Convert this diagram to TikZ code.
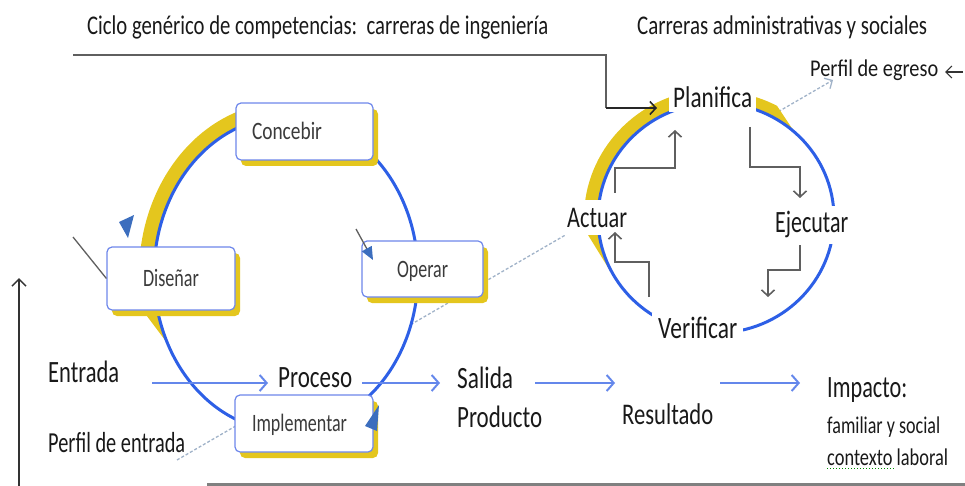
\documentclass[tikz,border=0pt]{standalone}
\usepackage{fontspec}
\setmainfont{Carlito}
\usepackage{graphicx}
\usetikzlibrary{arrows.meta,calc,shadows}
\definecolor{cblue}{RGB}{45,95,230}
\definecolor{fblue}{RGB}{100,135,235}
\definecolor{bblue}{RGB}{110,135,235}
\definecolor{ablue}{RGB}{60,110,190}
\definecolor{yel}{RGB}{228,198,30}
\definecolor{txtc}{RGB}{25,25,25}
\definecolor{gline}{RGB}{95,95,95}
\definecolor{dashc}{RGB}{160,178,200}
\newcommand\fw[2]{\resizebox{#1pt}{\height}{#2}}
\newcommand\fsz[1]{\fontsize{#1}{#1}\selectfont}
\begin{document}
\begin{tikzpicture}[x=1pt,y=-1pt,
  txt/.style={anchor=base west, inner sep=0pt, text=txtc},
  lbl/.style={anchor=base west, fill=white, text=txtc},
  box/.style={draw=bblue, line width=1.2pt, fill=white, rounded corners=5pt, inner sep=0pt,
     text=txtc!85, font=\fsz{25}, text height=16pt, text depth=0pt,
     drop shadow={shadow xshift=5pt, shadow yshift=-6pt, fill=yel, opacity=1}},
  flow/.style={fblue, line width=2pt, -{Straight Barb[length=7pt,width=16pt]}},
  stp/.style={gline, line width=1.6pt, -{Straight Barb[length=6pt,width=13pt]}},
  dsh/.style={dashc, line width=1.3pt, dash pattern=on 3pt off 2pt}
]
\useasboundingbox (0,0) rectangle (965,486);

% dashed line Perfil de entrada -> Perfil de egreso (hidden inside the circles)
\coordinate (pa) at (177,460);
\coordinate (pb) at (833,80);
\draw[dsh, -{Straight Barb[length=6pt,width=12pt]}] (pa) -- (pb);

% white interiors of the two cycles
\fill[white] (286,274) ellipse [x radius=132, y radius=157];
\fill[white] (716,218) ellipse [x radius=118, y radius=115];

% yellow bands
\fill[yel] ($(286,274)+(-100:147 and 172)$) arc[start angle=-100, end angle=-192, x radius=147, y radius=172]
   -- ($(286,274)+(-205:133 and 158)$) arc[start angle=-205, end angle=-100, x radius=133, y radius=158] -- cycle;
\fill[yel] ($(716,218)+(-100:132 and 129)$) arc[start angle=-100, end angle=-185, x radius=132, y radius=129]
   -- ($(716,218)+(-207:119 and 116)$) arc[start angle=-207, end angle=-100, x radius=119, y radius=116] -- cycle;
\fill[yel] ($(716,218)+(-80:130 and 127)$) arc[start angle=-80, end angle=-62, x radius=130, y radius=127]
   -- ($(716,218)+(-50:119 and 116)$) arc[start angle=-50, end angle=-80, x radius=119, y radius=116] -- cycle;

% blue cycles
\draw[cblue, line width=3pt] (286,274) ellipse [x radius=132, y radius=157];
\draw[cblue, line width=3pt] (716,218) ellipse [x radius=118, y radius=115];

% boxes of the engineering cycle
\node[box, minimum width=137pt, minimum height=57pt] (conc) at (304.5,131.5) {\makebox[105pt][l]{\fw{70}{Concebir}}};
\node[box, minimum width=128pt, minimum height=63pt] (dise) at (171,278.5) {\fw{56}{Diseñar}};
\node[box, minimum width=121pt, minimum height=56pt] (oper) at (422.5,269) {\fw{51}{Operar}};
\node[box, minimum width=138pt, minimum height=57pt] (impl) at (304,423.5) {\makebox[104pt][l]{\fw{95}{Implementar}}};

% small cycle arrowheads
\fill[ablue] (119,222) -- (134,215) -- (128,238) -- cycle;
\draw[gline, line width=1.3pt, -{Triangle[length=13pt,width=11pt,color=ablue]}] (356,229) -- (373,260);
\fill[ablue] (379,405) -- (377,431) -- (365,426) -- cycle;

% labels of the administrative cycle
\node[lbl, font=\fsz{30}, inner xsep=4pt, inner ysep=4pt] (plan) at (669,108) {\fw{79}{Planifica}};
\node[lbl, font=\fsz{30}, inner xsep=3pt, inner ysep=8pt] (act) at (564,227) {\fw{60}{Actuar}};
\node[lbl, font=\fsz{31}, inner xsep=3pt, inner ysep=6pt] (ejec) at (772,233) {\fw{73}{Ejecutar}};
\node[lbl, font=\fsz{31}, inner xsep=6pt, inner ysep=4pt] (verif) at (652,338) {\fw{79}{Verificar}};

% step arrows of the administrative cycle
\coordinate (s1a) at (615,193); \coordinate (s1b) at (675,130);
\coordinate (s2a) at (750,127); \coordinate (s2b) at (800,198);
\coordinate (s3a) at (800,245); \coordinate (s3b) at (768,297);
\coordinate (s4a) at (649,297); \coordinate (s4b) at (615,232);
\draw[stp] (s1a) -- (615,168) -- (675,168) -- (s1b);
\draw[stp] (s2a) -- (750,167) -- (800,167) -- (s2b);
\draw[stp] (s3a) -- (800,270) -- (768,270) -- (s3b);
\draw[stp] (s4a) -- (649,262) -- (615,262) -- (s4b);

% titles and texts
\node[txt, font=\fsz{27}] (title) at (87,35) {\fw{461}{Ciclo genérico de competencias:\ \ carreras de ingeniería}};
\node[txt, font=\fsz{27}] (carr) at (637,35) {\fw{290}{Carreras administrativas y sociales}};
\node[txt, font=\fsz{24}] (pegr) at (810,77) {\fw{128}{Perfil de egreso}};
\node[txt, font=\fsz{31}] (entr) at (48,382) {\fw{71}{Entrada}};
\node[txt, font=\fsz{29}] (pent) at (48,452) {\fw{137}{Perfil de entrada}};
\node[txt, font=\fsz{31}] (proc) at (278,387) {\fw{74}{Proceso}};
\node[txt, font=\fsz{31}] (sal) at (457,388) {\fw{56}{Salida}};
\node[txt, font=\fsz{31}] (prod) at (457,427) {\fw{85}{Producto}};
\node[txt, font=\fsz{30}] (res) at (622,424) {\fw{91}{Resultado}};
\node[txt, font=\fsz{31}] (imp) at (827,397) {\fw{80}{Impacto:}};
\node[txt, font=\fsz{24}] (fam) at (827,433) {\fw{113}{familiar y social}};
\node[txt, font=\fsz{24}] (ctx) at (827,465) {\fw{121}{contexto laboral}};
\draw[green!55!black, line width=1pt, dotted] (827,468) -- (895,468);

% flow arrows
\coordinate (f1a) at (152,383); \coordinate (f1b) at (268,383);
\coordinate (f2a) at (362,383); \coordinate (f2b) at (440,383);
\coordinate (f3a) at (535,383); \coordinate (f3b) at (615,383);
\coordinate (f4a) at (720,383); \coordinate (f4b) at (800,383);
\draw[flow] (f1a) -- (f1b);
\draw[flow] (f2a) -- (f2b);
\draw[flow] (f3a) -- (f3b);
\draw[flow] (f4a) -- (f4b);

% frame lines and other arrows
\coordinate (tl) at (73,55);
\coordinate (tp) at (657,108);
\draw[gline, line width=1.6pt] (tl) -- (606,55) -- (606,108);
\draw[black!85, line width=1.6pt, -{Straight Barb[length=6pt,width=13pt]}] (606,108) -- (tp);
\coordinate (dl) at (73,237);
\draw[gline, line width=1.3pt] (dl) -- (dise.west);
\coordinate (va) at (19,486); \coordinate (vb) at (19,278);
\draw[black!80, line width=1.5pt, -{Straight Barb[length=7pt,width=14pt]}] (va) -- (vb);
\coordinate (bl) at (207,484); \coordinate (br) at (965,484);
\draw[gray, line width=3pt] (bl) -- (br);
\coordinate (ea) at (963,72); \coordinate (eb) at (945,72);
\draw[black!80, line width=1.2pt, -{Straight Barb[length=6pt,width=12pt]}] (ea) -- (eb);
\end{tikzpicture}
\end{document}
